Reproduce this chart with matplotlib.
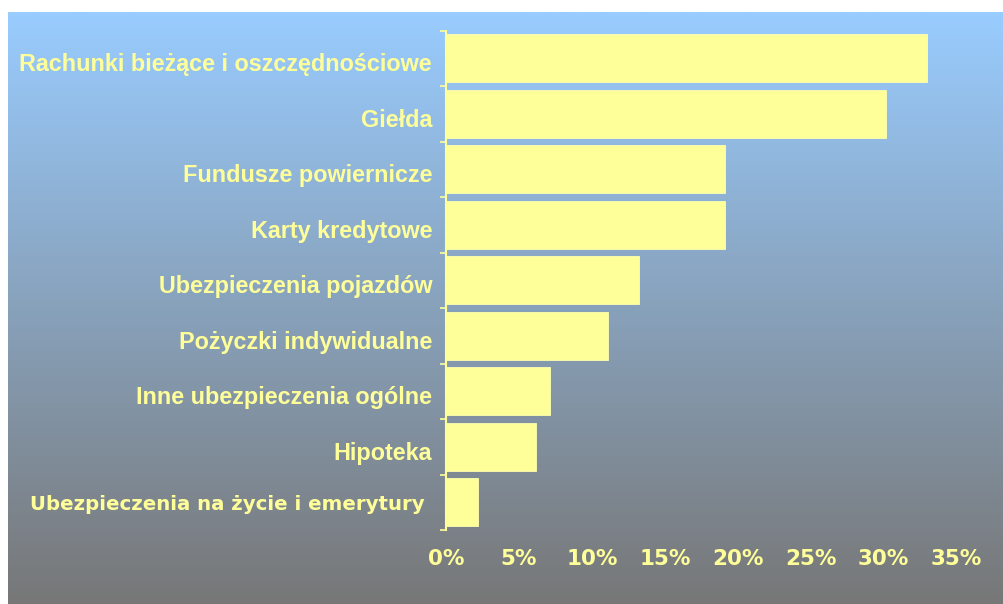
import numpy as np
import matplotlib
matplotlib.use("Agg")
import matplotlib.pyplot as plt
from matplotlib import font_manager
from matplotlib.transforms import ScaledTranslation

# udzial produktow finansowych (%)
kategorie = ["Rachunki bieżące i oszczędnościowe", "Giełda", "Fundusze powiernicze",
             "Karty kredytowe", "Ubezpieczenia pojazdów", "Pożyczki indywidualne",
             "Inne ubezpieczenia ogólne", "Hipoteka", "Ubezpieczenia na życie i emerytury"]
udzial = [33.0, 30.2, 19.1, 19.1, 13.2, 11.1, 7.1, 6.2, 2.2]
xticks = [0, 5, 10, 15, 20, 25, 30, 35]
xlabels = ["0%", "5%", "10%", "15%", "20%", "25%", "30%", "35%"]

zolty = "#FFFF99"

# waska czcionka jesli jest, inaczej zwykla
rodziny = [f.name for f in font_manager.fontManager.ttflist]
if "Liberation Sans Narrow" in rodziny:
    etyk_font, etyk_size = "Liberation Sans Narrow", 20.5
else:
    etyk_font, etyk_size = "Liberation Sans", 16.8

fig = plt.figure(figsize=(10.04, 6.04), dpi=100, facecolor="white")

# tlo z gradientem niebieski -> szary
tlo = fig.add_axes([8/1004, 0, 996/1004, 592/604])
gora = np.array([0x99, 0xCC, 0xFF]) / 255
dol = np.array([0x77, 0x77, 0x77]) / 255
t = np.linspace(0, 1, 256)[:, None]
grad = gora[None, :] * (1 - t) + dol[None, :] * t
tlo.imshow(grad[:, None, :], aspect="auto", extent=[0, 1, 0, 1])
tlo.set_axis_off()

ax = fig.add_axes([446/1004, 74/604, 510.5/1004, 499.5/604])
ax.patch.set_alpha(0)
y = np.arange(len(kategorie))
ax.barh(y, udzial, height=0.86, color=zolty, edgecolor="#FFFFB0", linewidth=0.6)
ax.set_xlim(0, 35)
ax.set_ylim(len(kategorie) - 0.5, -0.5)

for s in ["top", "right", "bottom"]:
    ax.spines[s].set_visible(False)
ax.spines["left"].set_color(zolty)
ax.spines["left"].set_linewidth(1.5)

ax.set_xticks(xticks)
ax.set_xticklabels(xlabels)
ax.tick_params(axis="x", length=0, pad=14, labelcolor=zolty, labelsize=15.5)
for lab in ax.get_xticklabels():
    lab.set_fontfamily("DejaVu Sans")
    lab.set_fontweight("bold")

ax.set_yticks(y)
ax.set_yticklabels(kategorie)
ax.set_yticks(np.arange(len(kategorie) + 1) - 0.5, minor=True)
ax.tick_params(axis="y", which="major", length=0, pad=10, labelcolor=zolty)
ax.tick_params(axis="y", which="minor", length=4.3, width=1.2, color=zolty)
labs = ax.get_yticklabels()
for lab in labs[:-1]:
    lab.set_fontfamily(etyk_font)
    lab.set_fontweight("bold")
    lab.set_fontsize(etyk_size)
    lab.set_transform(lab.get_transform() + ScaledTranslation(0, -4/100, fig.dpi_scale_trans))
# ostatnia etykieta inna czcionka, troche dalej od osi
labs[-1].set_fontfamily("DejaVu Sans")
labs[-1].set_fontweight("bold")
labs[-1].set_fontsize(14.2)
labs[-1].set_transform(labs[-1].get_transform() + ScaledTranslation(-7/100, 0, fig.dpi_scale_trans))

fig.savefig("out.png", dpi=100)
